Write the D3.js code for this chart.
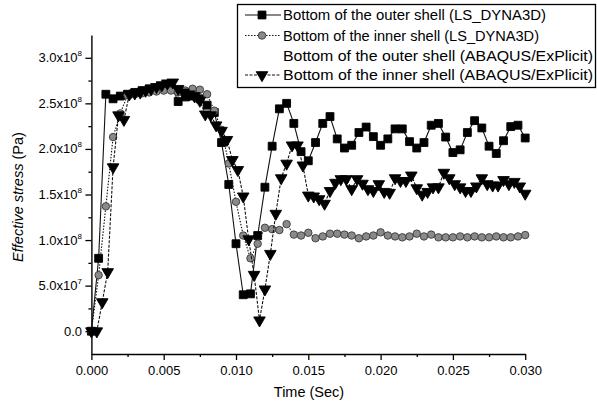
<!DOCTYPE html>
<html>
<head>
<meta charset="utf-8">
<script src="https://cdn.jsdelivr.net/npm/d3@7"></script>
<style>
  html, body { margin: 0; padding: 0; background: #fff; }
  svg { display: block; font-family: "Liberation Sans", Arial, sans-serif; }
</style>
</head>
<body>
<div id="chart"></div>
<script>
// LS-DYNA3D output times (s)
const lsTime = [0, 0.0005, 0.001, 0.0015, 0.002, 0.0025, 0.003, 0.0035, 0.004, 0.0045,
  0.005, 0.0055, 0.006, 0.0065, 0.007, 0.0075, 0.008, 0.0085, 0.009, 0.0095,
  0.010, 0.0105, 0.011, 0.0115, 0.012, 0.0125, 0.013, 0.0135, 0.014, 0.0145,
  0.015, 0.0155, 0.016, 0.0165, 0.017, 0.0175, 0.018, 0.0185, 0.019, 0.0195,
  0.020, 0.0205, 0.021, 0.0215, 0.022, 0.0225, 0.023, 0.0235, 0.024, 0.0245,
  0.025, 0.0255, 0.026, 0.0265, 0.027, 0.0275, 0.028, 0.0285, 0.029, 0.0295, 0.030];

// ABAQUS/Explicit output times (s)
const abTime = [0, 0.000375, 0.00075, 0.001125, 0.0015, 0.001875, 0.00225, 0.002625, 0.003, 0.003375,
  0.00375, 0.004125, 0.0045, 0.004875, 0.00525, 0.005625, 0.006, 0.006375, 0.00675, 0.007125,
  0.0075, 0.007875, 0.00825, 0.008625, 0.009, 0.009375, 0.00975, 0.010125, 0.0105, 0.010875,
  0.01125, 0.011625, 0.012, 0.012375, 0.01275, 0.013125, 0.0135, 0.013875, 0.01425, 0.014625,
  0.015, 0.015375, 0.01575, 0.016125, 0.0165, 0.016875, 0.01725, 0.017625, 0.018, 0.018375,
  0.01875, 0.019125, 0.0195, 0.019875, 0.02025, 0.020625, 0.021, 0.021375, 0.02175, 0.022125,
  0.0225, 0.022875, 0.02325, 0.023625, 0.024, 0.024375, 0.02475, 0.025125, 0.0255, 0.025875,
  0.02625, 0.026625, 0.027, 0.027375, 0.02775, 0.028125, 0.0285, 0.028875, 0.02925, 0.029625, 0.03];

// effective stress, units of 1e8 Pa
const outerLS = [0, 0.80, 2.60, 2.55, 2.58, 2.60, 2.62, 2.64, 2.66, 2.67,
  2.69, 2.70, 2.52, 2.57, 2.58, 2.55, 2.48, 2.40, 2.07, 1.61,
  0.96, 0.40, 0.41, 1.05, 1.58, 2.03, 2.44, 2.50, 2.28, 1.97,
  1.87, 2.07, 2.28, 2.355, 2.11, 2.01, 2.04, 2.18, 2.24, 2.135,
  2.04, 2.11, 2.22, 2.22, 2.08, 2.01, 2.07, 2.26, 2.28, 2.13,
  1.96, 1.99, 2.18, 2.31, 2.23, 2.03, 1.95, 2.09, 2.245, 2.26, 2.12];

const innerLS = [0, 0.615, 1.37, 2.13, 2.39, 2.59, 2.60, 2.61, 2.62, 2.63,
  2.64, 2.64, 2.62, 2.64, 2.66, 2.65, 2.60, 2.42, 2.21, 1.84,
  1.42, 1.05, 0.80, 0.96, 1.135, 1.12, 1.11, 1.175, 1.06, 1.05,
  1.08, 1.02, 1.04, 1.07, 1.07, 1.06, 1.05, 1.02, 1.04, 1.05,
  1.085, 1.05, 1.04, 1.03, 1.04, 1.07, 1.04, 1.06, 1.03, 1.03,
  1.03, 1.04, 1.03, 1.04, 1.03, 1.03, 1.04, 1.03, 1.03, 1.04, 1.055];

const innerAB = [0, 0, 0.32, 0.65, 1.80, 2.37, 2.32, 2.60, 2.61, 2.62,
  2.64, 2.66, 2.68, 2.70, 2.72, 2.73, 2.66, 2.62, 2.60, 2.58,
  2.53, 2.38, 2.37, 2.26, 2.20, 2.10, 1.88, 1.77, 1.48, 1.01,
  0.62, 0.12, 0.46, 0.85, 1.29, 1.68, 1.84, 2.04, 2.04, 1.82,
  1.49, 1.48, 1.45, 1.40, 1.54, 1.63, 1.67, 1.67, 1.56, 1.67,
  1.62, 1.56, 1.54, 1.615, 1.53, 1.52, 1.68, 1.65, 1.65, 1.71,
  1.57, 1.50, 1.53, 1.58, 1.58, 1.74, 1.68, 1.615, 1.58, 1.54,
  1.54, 1.59, 1.68, 1.615, 1.60, 1.60, 1.66, 1.615, 1.64, 1.59, 1.51];

const xTicks = [0, 0.005, 0.010, 0.015, 0.020, 0.025, 0.030];
const yTicks = [0, 5e7, 1e8, 1.5e8, 2e8, 2.5e8, 3e8];
const legendLabels = [
  "Bottom of the outer shell (LS_DYNA3D)",
  "Bottom of the inner shell (LS_DYNA3D)",
  "Bottom of the outer shell (ABAQUS/ExPlicit)",
  "Bottom of the inner shell (ABAQUS/ExPlicit)"
];

const W = 597, H = 405;
const svg = d3.select("#chart").append("svg").attr("width", W).attr("height", H);

const x = d3.scaleLinear().domain([0, 0.030]).range([91.4, 525.2]);
const y = d3.scaleLinear().domain([-2.5e7, 3.25e8]).range([354, 35]);

// axes
const fmtX = d3.format(".3f");
const gx = svg.append("g").attr("transform", `translate(0,${y.range()[0]})`)
  .call(d3.axisBottom(x).tickValues(xTicks).tickSize(6).tickSizeOuter(0).tickFormat(fmtX));
gx.append("g").call(d3.axisBottom(x).tickValues(d3.range(0.0025, 0.030, 0.005)).tickSize(3).tickFormat(""))
  .select(".domain").remove();

const gy = svg.append("g").attr("transform", `translate(${x.range()[0]},0)`)
  .call(d3.axisLeft(y).tickValues(yTicks).tickSize(6).tickSizeOuter(0).tickFormat(""));
gy.append("g").call(d3.axisLeft(y).tickValues(d3.range(2.5e7, 3.25e8, 5e7)).tickSize(3).tickFormat(""))
  .select(".domain").remove();

[gx, gy].forEach(g => {
  g.selectAll(".domain").attr("stroke", "#000").attr("stroke-width", 1.4);
  g.selectAll("line").attr("stroke", "#000").attr("stroke-width", 1.3);
});
gx.selectAll(".tick text").attr("font-size", 13).attr("fill", "#000")
  .attr("font-family", "Liberation Sans, Arial, sans-serif").attr("dy", "0.95em");

// y tick labels with superscript exponents
yTicks.forEach(v => {
  const t = svg.append("text").attr("x", 82).attr("y", y(v) + 4.5)
    .attr("text-anchor", "end").attr("font-size", 13).attr("fill", "#000");
  if (v === 0) { t.text("0.0"); return; }
  const e = Math.floor(Math.log10(v));
  const m = (v / Math.pow(10, e)).toFixed(1);
  t.append("tspan").text(`${m}x10`);
  t.append("tspan").attr("dy", -6).attr("font-size", 8).text(e);
});

// axis titles
svg.append("text").attr("x", 309).attr("y", 397).attr("text-anchor", "middle")
  .attr("font-size", 14.5).text("Time (Sec)");
const yt = svg.append("text").attr("transform", "translate(23,197) rotate(-90)")
  .attr("text-anchor", "middle").attr("font-size", 14.5);
yt.append("tspan").attr("font-style", "italic").text("Effective stress ");
yt.append("tspan").text("(Pa)");

// series
const line = d3.line().x(d => x(d[0])).y(d => y(d[1] * 1e8));
const sq = d3.symbol().type(d3.symbolSquare).size(62);
const circ = d3.symbol().type(d3.symbolCircle).size(44);
const tri = d3.symbol().type(d3.symbolTriangle).size(58);

const series = [
  { t: lsTime, v: outerLS, dash: null, sym: sq, fill: "#000", stroke: "#000", rot: 0 },
  { t: lsTime, v: innerLS, dash: "1.5,1.5", sym: circ, fill: "#8a8a8a", stroke: "#3a3a3a", rot: 0 },
  { t: abTime, v: innerAB, dash: "3,1.5", sym: tri, fill: "#000", stroke: "#000", rot: 180 }
];

series.forEach(s => {
  const pts = s.t.map((t, i) => [t, s.v[i]]);
  svg.append("path").datum(pts).attr("d", line)
    .attr("fill", "none").attr("stroke", "#111").attr("stroke-width", 1.1)
    .attr("stroke-dasharray", s.dash);
  svg.append("g").selectAll("path").data(pts).join("path")
    .attr("transform", d => `translate(${x(d[0])},${y(d[1] * 1e8)}) rotate(${s.rot})`)
    .attr("d", s.sym).attr("fill", s.fill).attr("stroke", s.stroke).attr("stroke-width", 0.9);
});

// legend
const lg = svg.append("g");
lg.append("rect").attr("x", 237.5).attr("y", 4.5).attr("width", 358).attr("height", 83)
  .attr("fill", "#fff").attr("stroke", "#000").attr("stroke-width", 1.3);
const legendRows = [
  { dash: null, sym: sq, fill: "#000", stroke: "#000", rot: 0, w: 263 },
  { dash: "1.5,1.5", sym: circ, fill: "#8a8a8a", stroke: "#3a3a3a", rot: 0, w: 256 },
  { dash: null, sym: null, w: 310 },
  { dash: "3,1.5", sym: tri, fill: "#000", stroke: "#000", rot: 180, w: 310 }
];
const rowY = [15, 35.5, 55.5, 75];
legendRows.forEach((r, i) => {
  const cy = rowY[i];
  if (r.sym) {
    lg.append("line").attr("x1", 245).attr("x2", 281).attr("y1", cy).attr("y2", cy)
      .attr("stroke", "#111").attr("stroke-width", 1.1).attr("stroke-dasharray", r.dash);
    lg.append("path").attr("transform", `translate(262,${cy}) rotate(${r.rot})`)
      .attr("d", r.sym).attr("fill", r.fill).attr("stroke", r.stroke).attr("stroke-width", 0.9);
  }
  lg.append("text").attr("x", 283).attr("y", cy + 5).attr("font-size", 14)
    .attr("textLength", r.w).attr("lengthAdjust", "spacingAndGlyphs")
    .text(legendLabels[i]);
});
</script>
</body>
</html>
